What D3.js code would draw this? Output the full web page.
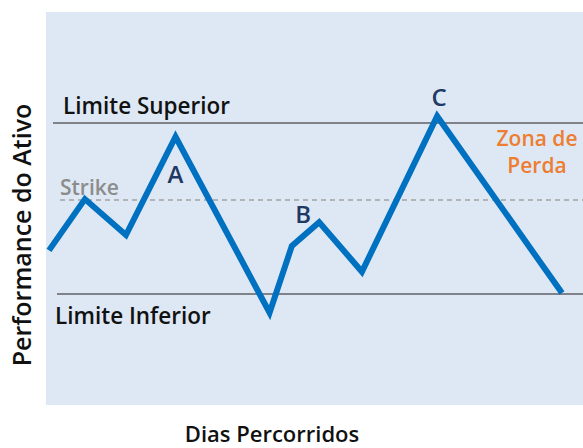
<!DOCTYPE html>
<html>
<head>
<meta charset="utf-8">
<script src="https://cdn.jsdelivr.net/npm/d3@7"></script>
<style>
	body { margin: 0; background: #fff; }
	svg text { font-family: "Open Sans", sans-serif; font-weight: 600; }
</style>
</head>
<body>
<script>
(function () {
	"use strict";

	var w = 583;
	var h = 448;

	// days travelled and asset performance
	var days = [0, 2.1, 4.5, 7.4, 12.9, 14.2, 15.8, 18.3, 22.7, 30];
	var perf = [95.1, 101.1, 96.9, 108.4, 87.8, 95.6, 98.4, 92.6, 110.8, 90.1];

	var upperLimit = 110;
	var lowerLimit = 90;
	var strike = 101;

	var pointLabels = ["A", "B", "C"];
	var pointIndex = [3, 6, 8];

	var svg = d3.select("body")
		.append("svg")
		.attr("width", w)
		.attr("height", h);

	// Scales
	var xScale = d3.scaleLinear()
		.domain([0, 30])
		.range([49, 562]);

	var yScale = d3.scaleLinear()
		.domain([77, 123])
		.range([405, 12]);

	// background panel
	svg.append("rect")
		.attr("x", 46)
		.attr("y", yScale(123))
		.attr("width", w - 46)
		.attr("height", yScale(77) - yScale(123))
		.attr("fill", "#dde8f4");

	// limit lines
	svg.append("line")
		.attr("x1", 53).attr("x2", w)
		.attr("y1", yScale(upperLimit)).attr("y2", yScale(upperLimit))
		.attr("stroke", "#5f6066")
		.attr("stroke-width", 1.5);

	svg.append("line")
		.attr("x1", 57).attr("x2", w)
		.attr("y1", yScale(lowerLimit)).attr("y2", yScale(lowerLimit))
		.attr("stroke", "#5f6066")
		.attr("stroke-width", 1.5);

	svg.append("line")
		.attr("x1", 60).attr("x2", w)
		.attr("y1", yScale(strike)).attr("y2", yScale(strike))
		.attr("stroke", "#a3a3a3")
		.attr("stroke-width", 1.5)
		.attr("stroke-dasharray", "5,4");

	// Line
	var lineFun = d3.line()
		.x((d, i) => xScale(days[i]))
		.y((d) => yScale(d));

	svg.append("path")
		.attr("d", lineFun(perf))
		.attr("stroke", "#0070c0")
		.attr("stroke-width", 6)
		.attr("stroke-linejoin", "miter")
		.attr("fill", "none");

	// text labels
	svg.append("text")
		.attr("x", 63).attr("y", yScale(upperLimit) - 9)
		.attr("font-size", 22.5)
		.attr("fill", "#111")
		.text("Limite Superior");

	svg.append("text")
		.attr("x", 55).attr("y", yScale(lowerLimit) + 30)
		.attr("font-size", 22.5)
		.attr("fill", "#111")
		.text("Limite Inferior");

	svg.append("text")
		.attr("x", 60).attr("y", yScale(strike) - 5)
		.attr("font-size", 21)
		.attr("fill", "#8c8c8c")
		.text("Strike");

	var offsets = [[0, 46], [-16, 1], [2, -10]];
	svg.selectAll(".pt")
		.data(pointLabels)
		.enter()
		.append("text")
		.attr("class", "pt")
		.attr("x", (d, i) => xScale(days[pointIndex[i]]) + offsets[i][0])
		.attr("y", (d, i) => yScale(perf[pointIndex[i]]) + offsets[i][1])
		.attr("text-anchor", "middle")
		.attr("font-size", 24)
		.attr("fill", "#1f3864")
		.text((d) => d);

	var zona = svg.append("text")
		.attr("x", 537).attr("y", 146)
		.attr("text-anchor", "middle")
		.attr("font-size", 21)
		.attr("fill", "#ed7d31");
	zona.append("tspan").attr("x", 537).text("Zona de");
	zona.append("tspan").attr("x", 537).attr("dy", 27).text("Perda");

	// axis titles
	svg.append("text")
		.attr("transform", "translate(31, 235) rotate(-90)")
		.attr("text-anchor", "middle")
		.attr("font-size", 25)
		.attr("fill", "#111")
		.text("Performance do Ativo");

	svg.append("text")
		.attr("x", 272).attr("y", 442)
		.attr("text-anchor", "middle")
		.attr("font-size", 22)
		.attr("fill", "#111")
		.text("Dias Percorridos");
})();
</script>
</body>
</html>
